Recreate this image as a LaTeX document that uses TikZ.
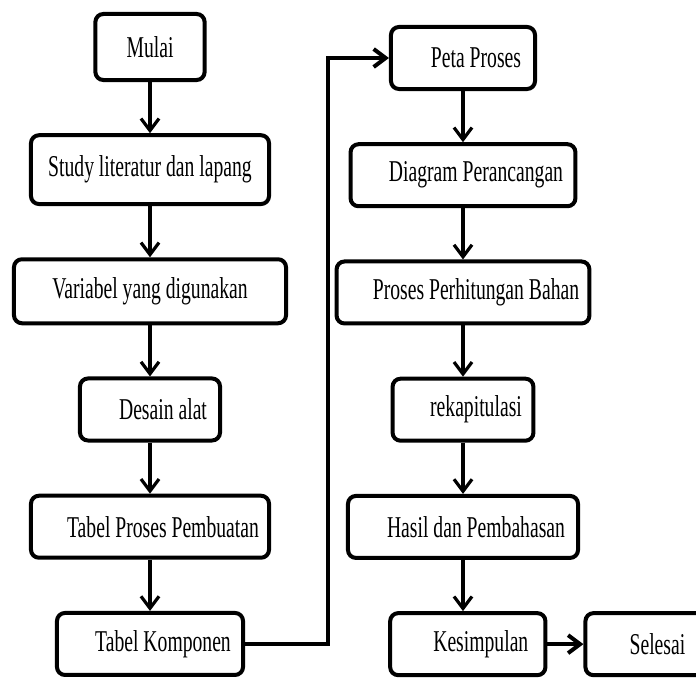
\documentclass[tikz,border=0pt]{standalone}
\usepackage{fontspec}
\setmainfont{Liberation Serif}[FakeStretch=0.65]
\usetikzlibrary{arrows.meta, positioning}

\newcommand{\padtext}{\hspace*{0.65cm}}

\begin{document}
\begin{tikzpicture}[
    x=0.025cm, y=-0.025cm,
    node distance=1.28cm and 0.9cm,
    every node/.style={font=\fontsize{21.5}{24}\selectfont},
    box/.style={rectangle, rounded corners=0.2cm, draw=black, line width=0.1cm, fill=white, align=center, minimum height=1.55cm, inner sep=2pt},
    flow/.style={-{Straight Barb[length=0.3cm, width=0.45cm]}, line width=0.08cm, black}
]
\clip (0,0) rectangle (696,682);

% ============== Kolom kiri ==============
\node[box, minimum width=2.73cm, minimum height=1.65cm] (mulai) at (150,47) {Mulai};
\node[box, below=of mulai, minimum width=5.95cm, minimum height=1.72cm] (study) {Study literatur dan lapang};
\node[box, below=of study, minimum width=6.8cm, minimum height=1.6cm] (variabel) {Variabel yang digunakan};
\node[box, below=of variabel, minimum width=3.5cm] (desain) {\padtext Desain alat};
\node[box, below=of desain, minimum width=5.95cm] (tproses) {\padtext Tabel Proses Pembuatan};
\node[box, below=of tproses, minimum width=4.65cm] (tkomp) {\padtext Tabel Komponen};

% ============== Kolom kanan ==============
\node[box, minimum width=3.6cm] (peta) at (463,58) {\padtext Peta Proses};
\node[box, below=of peta, minimum width=5.62cm] (diagram) {\padtext Diagram Perancangan};
\node[box, below=of diagram, minimum width=6.32cm] (hitung) {\padtext Proses Perhitungan Bahan};
\node[box, below=of hitung, minimum width=3.52cm] (rekap) {\padtext rekapitulasi};
\node[box, below=of rekap, minimum width=5.75cm] (hasil) {\padtext Hasil dan Pembahasan};
\node[box, below=of hasil, xshift=0.12cm, minimum width=3.88cm] (kesimpulan) {\padtext Kesimpulan};
\node[box, right=0.9cm of kesimpulan, minimum width=3.35cm] (selesai) {\hspace*{0.25cm}Selesai};

% ============== Panah ==============
\draw[flow] (mulai) -- (study);
\draw[flow] (study) -- (variabel);
\draw[flow] (variabel) -- (desain);
\draw[flow] (desain) -- (tproses);
\draw[flow] (tproses) -- (tkomp);

\coordinate (belok) at (328,350);
\draw[flow, line width=0.1cm, rounded corners=0pt] (tkomp.east) -| (belok) |- (peta.west);

\draw[flow] (peta) -- (diagram);
\draw[flow] (diagram) -- (hitung);
\draw[flow] (hitung) -- (rekap);
\draw[flow] (rekap) -- (hasil);
\draw[flow] (hasil.south) -- (hasil.south |- kesimpulan.north);
\draw[flow, line width=0.1cm] (kesimpulan) -- (selesai);
\end{tikzpicture}
\end{document}
